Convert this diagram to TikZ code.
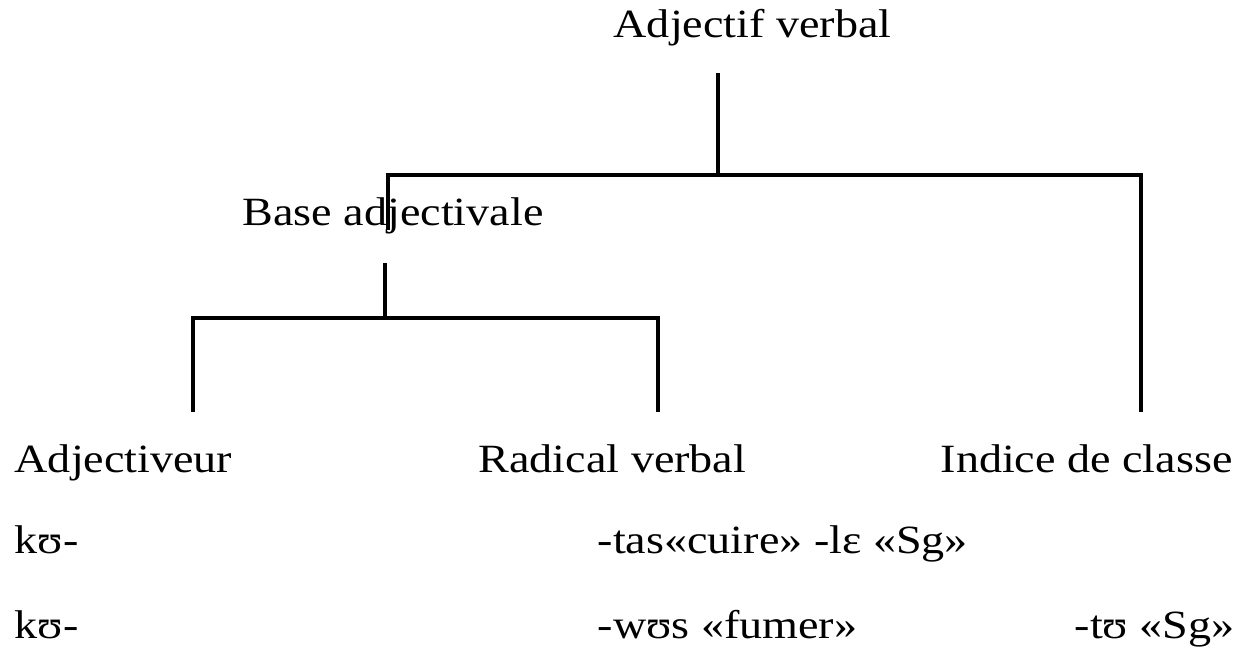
\documentclass[tikz,border=0pt]{standalone}
\usepackage{fontspec}
\setmainfont[FakeStretch=1.15]{Liberation Serif}
\usepackage{tikz}
\usetikzlibrary{positioning}

\begin{document}
\begin{tikzpicture}[
  x=0.01cm, y=-0.01cm,
  every node/.style={anchor=base west, inner sep=0pt, font=\fontsize{11.4}{13}\selectfont},
  branch/.style={line width=1.15pt, line cap=rect, line join=miter}
]
  \useasboundingbox (0,0) rectangle (1244,648);
  % Root
  \node (root) at (613,37) {Adjectif verbal};
  % Main branches
  \node (base) at (242,225) {Base adjectivale};
  \node (adjr) at (14,472) {Adjectiveur};
  \node (radical) at (478,472) {Radical verbal};
  \node (indice) at (940,472) {Indice de classe};
  % Examples
  \node (ex1a) at (14,553) {kʊ-};
  \node (ex1b) at (597,553) {-tas«cuire» -lɛ «Sg»};
  \node (ex2a) at (14,638) {kʊ-};
  \node (ex2b) at (597,638) {-wʊs «fumer»};
  \node (ex2c) at (1074,638) {-tʊ «Sg»};

  % Joints
  \coordinate (rootfoot) at (718,75);
  \coordinate (fork1) at (718,175);
  \coordinate (basetop) at (388,228);
  \coordinate (indicetop) at (1141,410);
  \coordinate (basefoot) at (385,265);
  \coordinate (fork2) at (385,318);
  \coordinate (adjrtop) at (193,410);
  \coordinate (radicaltop) at (658,410);

  \draw[branch] (rootfoot) -- (fork1);
  \draw[branch] (basetop) |- (fork1) -| (indicetop);
  \draw[branch] (basefoot) -- (fork2);
  \draw[branch] (adjrtop) |- (fork2) -| (radicaltop);
\end{tikzpicture}
\end{document}
